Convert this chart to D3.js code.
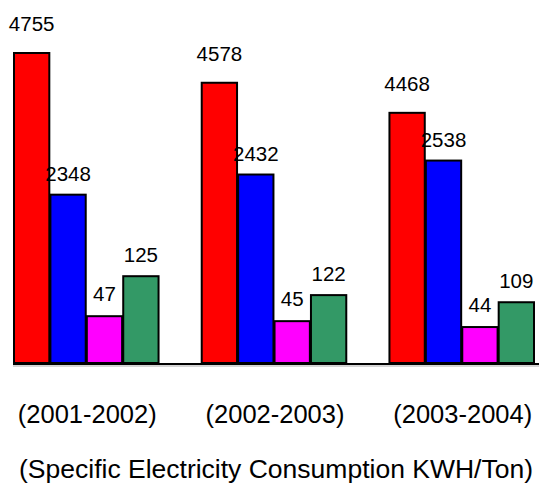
<!DOCTYPE html>
<html>
<head>
<meta charset="utf-8">
<script src="https://cdn.jsdelivr.net/npm/d3@7"></script>
<style>
  html, body { margin: 0; padding: 0; background: #fff; }
  svg { display: block; }
  text { font-family: "Liberation Sans", Arial, Helvetica, sans-serif; fill: #000; }
</style>
</head>
<body>
<svg id="chart" width="543" height="488"></svg>
<script>
// ---- data ----
const categories = ["(2001-2002)", "(2002-2003)", "(2003-2004)"];
const seriesKeys = ["red", "blue", "magenta", "green"];
// value labels printed above each bar
const redLabels = [4755, 4578, 4468];
const blueLabels = [2348, 2432, 2538];
const magentaLabels = [47, 45, 44];
const greenLabels = [125, 122, 109];
// bar levels as drawn in the picture (relative scale, tallest bar = 100)
const redLevels = [100, 90.4, 80.7];
const blueLevels = [54.3, 60.8, 65.3];
const magentaLevels = [15.1, 13.5, 11.6];
const greenLevels = [28.0, 21.9, 19.6];
const title = "(Specific Electricity Consumption KWH/Ton)";

// ---- styles ----
const colors = { red: "#FF0000", blue: "#0000FF", magenta: "#FF00FF", green: "#339966" };
const labelGap = { red: 22, blue: 14, magenta: 15, green: 14 };

const labels = { red: redLabels, blue: blueLabels, magenta: magentaLabels, green: greenLabels };
const levels = { red: redLevels, blue: blueLevels, magenta: magentaLevels, green: greenLevels };

const rows = [];
categories.forEach((c, i) => {
  seriesKeys.forEach(k => rows.push({ cat: c, key: k, level: levels[k][i], label: labels[k][i] }));
});

const svg = d3.select("#chart");
const baseline = 363;

const x0 = d3.scaleBand().domain(categories).range([14, 534]).paddingInner(0.23);
const x1 = d3.scaleBand().domain(seriesKeys).range([0, x0.bandwidth()]).paddingInner(0.03);
const y = d3.scaleLinear().domain([0, 100]).range([baseline, 53]);

// bars
svg.append("g").selectAll("rect").data(rows).join("rect")
  .attr("x", d => x0(d.cat) + x1(d.key))
  .attr("y", d => y(d.level))
  .attr("width", x1.bandwidth())
  .attr("height", d => baseline - y(d.level))
  .attr("fill", d => colors[d.key])
  .attr("stroke", "#000")
  .attr("stroke-width", 2);

// value labels
svg.append("g").selectAll("text").data(rows).join("text")
  .attr("x", d => x0(d.cat) + x1(d.key) + x1.bandwidth() / 2)
  .attr("y", d => y(d.level) - labelGap[d.key])
  .attr("text-anchor", "middle")
  .attr("font-size", 20.5)
  .text(d => d.label);

// axis line
const xAxis = d3.axisBottom(x0).tickSize(0).tickPadding(0).tickFormat("");
svg.append("line").attr("x1", 13).attr("x2", 539).attr("y1", baseline + 3).attr("y2", baseline + 3)
  .attr("stroke", "#aaa").attr("stroke-width", 1);
const ax = svg.append("g").attr("transform", `translate(0,${baseline + 1})`).call(xAxis);
ax.select(".domain").attr("stroke", "#000").attr("stroke-width", 2).attr("d", "M13,0H539");
ax.selectAll(".tick text").remove();

// category labels
svg.append("g").selectAll("text").data(categories).join("text")
  .attr("x", d => x0(d) + x0.bandwidth() / 2 + 1)
  .attr("y", 423)
  .attr("text-anchor", "middle")
  .attr("font-size", 25.5)
  .text(d => d);

// title
svg.append("text")
  .attr("x", 276).attr("y", 478)
  .attr("text-anchor", "middle")
  .attr("font-size", 26.5)
  .text(title);
</script>
</body>
</html>
